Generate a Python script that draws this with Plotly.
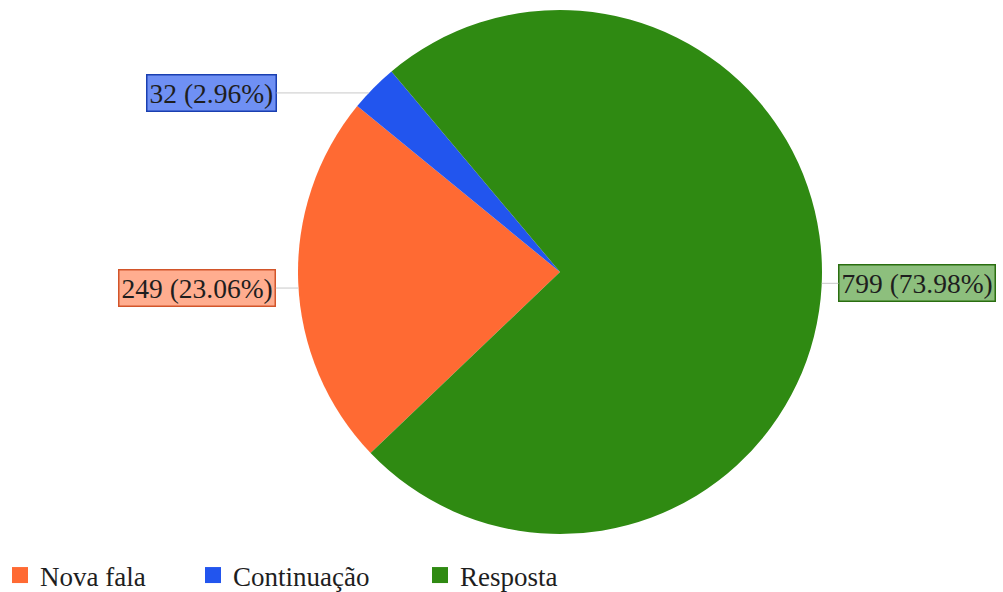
import math
import plotly.graph_objects as go

# Discourse move counts
categories = ["Nova fala", "Continuação", "Resposta"]
counts = [249, 32, 799]
colors = ["#FF6A33", "#2255EE", "#2F8A12"]
box_fills = ["rgba(255,106,51,0.55)", "rgba(34,85,238,0.65)", "rgba(47,138,18,0.55)"]
box_lines = ["#D2552A", "#1A3FB0", "#2A6E10"]

W, H = 1003, 592
cx, cy, r = 560, 272, 262          # pie centre and radius in pixels
start_deg = 226.3                  # clockwise from 12 o'clock
label_gap = [101, 157, 95]         # horizontal distance rim -> label centre
label_nudge = [6, 5, -3]           # vertical shift of each label row
legend_x = [0, 193, 420]           # left edge of each legend entry (px)

SERIF = "Liberation Serif"

total = sum(counts)
fig = go.Figure()
fig.add_trace(go.Pie(
    labels=categories,
    values=counts,
    marker=dict(colors=colors, line=dict(width=0)),
    sort=False,
    direction="clockwise",
    rotation=start_deg,
    textinfo="none",
    hoverinfo="label+value+percent",
    showlegend=False,
    domain=dict(x=[(cx - r) / W, (cx + r) / W], y=[1 - (cy + r) / H, 1 - (cy - r) / H]),
))

# Legend entries as square swatches, each in its own legend box
legend_style = dict(
    orientation="h", y=-8 / H, xanchor="left", yanchor="bottom",
    font=dict(family=SERIF, size=27, color="#1E1E1E"),
    itemsizing="trace", bgcolor="rgba(0,0,0,0)",
)
legend_layout = {}
for i, (name, c) in enumerate(zip(categories, colors)):
    key = "legend" if i == 0 else f"legend{i + 1}"
    fig.add_trace(go.Scatter(
        x=[None], y=[None], mode="markers", name=name,
        marker=dict(symbol="square", size=16, color=c),
        showlegend=True, hoverinfo="skip", legend=key,
    ))
    legend_layout[key] = dict(legend_style, x=legend_x[i] / W)

# Outside labels with horizontal leader lines, one per slice
acc = 0
for i, (name, v) in enumerate(zip(categories, counts)):
    mid = math.radians(start_deg + (acc + v / 2) / total * 360)
    acc += v
    side = 1 if math.sin(mid) > 0 else -1
    py = cy - r * math.cos(mid) + label_nudge[i]
    px = cx + side * math.sqrt(max(r * r - (py - cy) ** 2, 0))
    fig.add_annotation(
        x=px / W, y=1 - py / H, xref="paper", yref="paper",
        text=f"{v} ({v / total * 100:.2f}%)",
        showarrow=True, arrowhead=0, arrowwidth=1, arrowcolor="#C8C8C8",
        ax=side * label_gap[i], ay=0,
        bgcolor=box_fills[i], bordercolor=box_lines[i], borderwidth=1.5, borderpad=2,
        font=dict(family=SERIF, size=27.5, color="#1E1E1E"),
    )

fig.update_layout(
    width=W, height=H,
    margin=dict(l=0, r=0, t=0, b=0, autoexpand=False),
    paper_bgcolor="white",
    plot_bgcolor="white",
    xaxis=dict(visible=False),
    yaxis=dict(visible=False),
    showlegend=True,
    **legend_layout,
)

fig.write_html("out.html")
